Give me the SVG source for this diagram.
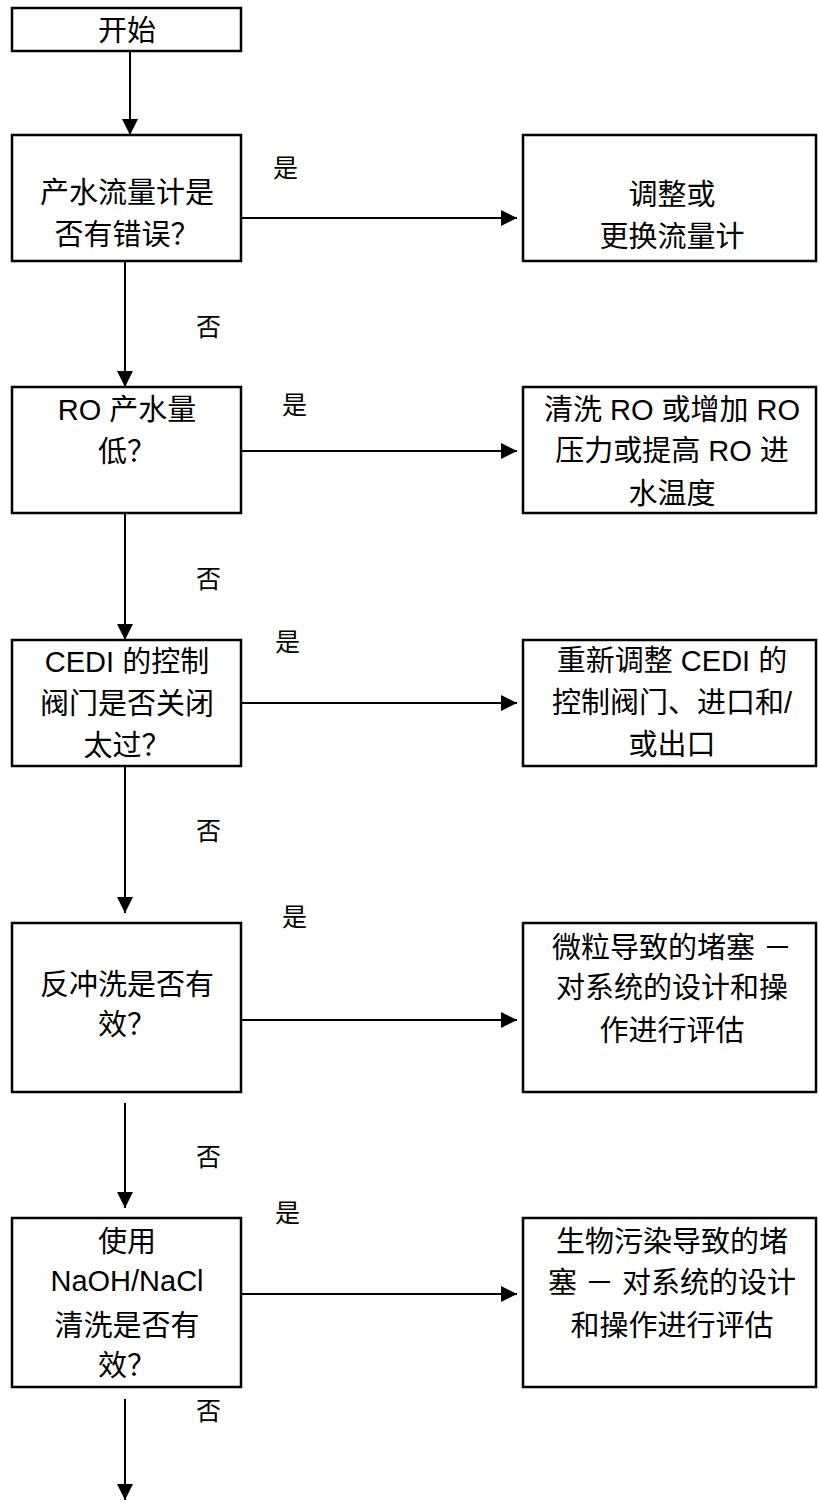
<svg xmlns="http://www.w3.org/2000/svg" width="819" height="1502" viewBox="0 0 819 1502">
<style>
.box{fill:#fff;stroke:#000;stroke-width:2.5}
.t{font-family:"Liberation Sans","Noto Sans CJK SC",sans-serif;font-size:29px;fill:#000;text-anchor:middle}
.l{font-family:"Noto Sans CJK SC","Liberation Sans",sans-serif;font-size:25px;fill:#000}
.c line{stroke:#000;stroke-width:2}
</style>
<defs>
<marker id="ah" markerUnits="userSpaceOnUse" markerWidth="17" markerHeight="16" refX="16" refY="8" orient="auto">
<path d="M0,0 L16,8 L0,16 z" fill="#000"/>
</marker>
</defs>
<g class="c" id="connectors">
<line x1="130" y1="51" x2="130" y2="135" marker-end="url(#ah)"/>
<line x1="125" y1="261" x2="125" y2="387" marker-end="url(#ah)"/>
<line x1="125" y1="513" x2="125" y2="640" marker-end="url(#ah)"/>
<line x1="125" y1="766" x2="125" y2="913" marker-end="url(#ah)"/>
<line x1="125" y1="1103" x2="125" y2="1208" marker-end="url(#ah)"/>
<line x1="125" y1="1399" x2="125" y2="1500" marker-end="url(#ah)"/>
<line x1="238" y1="218" x2="517" y2="218" marker-end="url(#ah)"/>
<line x1="238" y1="451" x2="517" y2="451" marker-end="url(#ah)"/>
<line x1="238" y1="703" x2="517" y2="703" marker-end="url(#ah)"/>
<line x1="238" y1="1020" x2="517" y2="1020" marker-end="url(#ah)"/>
<line x1="238" y1="1294" x2="517" y2="1294" marker-end="url(#ah)"/>
</g>
<g id="labels">
<text class="l" x="273" y="177">是</text>
<text class="l" x="282" y="414">是</text>
<text class="l" x="275" y="651">是</text>
<text class="l" x="282" y="926">是</text>
<text class="l" x="275" y="1222">是</text>
<text class="l" x="196" y="336">否</text>
<text class="l" x="196" y="588">否</text>
<text class="l" x="196" y="840">否</text>
<text class="l" x="196" y="1166">否</text>
<text class="l" x="196" y="1420">否</text>
</g>
<g id="start">
<rect class="box" x="12" y="8" width="229" height="43"/>
<text class="t" x="127" y="41">开始</text>
</g>
<g id="q1">
<rect class="box" x="12" y="135" width="229" height="126"/>
<text class="t" x="127" y="203">产水流量计是</text>
<text class="t" x="127" y="245">否有错误？</text>
</g>
<g id="a1">
<rect class="box" x="523" y="135" width="293" height="126"/>
<text class="t" x="672" y="205">调整或</text>
<text class="t" x="672" y="247">更换流量计</text>
</g>
<g id="q2">
<rect class="box" x="12" y="387" width="229" height="126"/>
<text class="t" x="127" y="420">RO 产水量</text>
<text class="t" x="127" y="462">低？</text>
</g>
<g id="a2">
<rect class="box" x="523" y="387" width="293" height="126"/>
<text class="t" x="672" y="420">清洗 RO 或增加 RO</text>
<text class="t" x="672" y="461">压力或提高 RO 进</text>
<text class="t" x="672" y="504">水温度</text>
</g>
<g id="q3">
<rect class="box" x="12" y="640" width="229" height="126"/>
<text class="t" x="127" y="672">CEDI 的控制</text>
<text class="t" x="127" y="714">阀门是否关闭</text>
<text class="t" x="127" y="756">太过？</text>
</g>
<g id="a3">
<rect class="box" x="523" y="640" width="293" height="126"/>
<text class="t" x="672" y="671">重新调整 CEDI 的</text>
<text class="t" x="672" y="713">控制阀门、进口和/</text>
<text class="t" x="672" y="755">或出口</text>
</g>
<g id="q4">
<rect class="box" x="12" y="923" width="229" height="169"/>
<text class="t" x="127" y="995">反冲洗是否有</text>
<text class="t" x="127" y="1035">效？</text>
</g>
<g id="a4">
<rect class="box" x="523" y="923" width="293" height="169"/>
<text class="t" x="672" y="958">微粒导致的堵塞 －</text>
<text class="t" x="672" y="998">对系统的设计和操</text>
<text class="t" x="672" y="1041">作进行评估</text>
</g>
<g id="q5">
<rect class="box" x="12" y="1218" width="229" height="169"/>
<text class="t" x="127" y="1252">使用</text>
<text class="t" x="127" y="1291">NaOH/NaCl</text>
<text class="t" x="127" y="1336">清洗是否有</text>
<text class="t" x="127" y="1376">效？</text>
</g>
<g id="a5">
<rect class="box" x="523" y="1218" width="293" height="169"/>
<text class="t" x="672" y="1252">生物污染导致的堵</text>
<text class="t" x="672" y="1293">塞 － 对系统的设计</text>
<text class="t" x="672" y="1336">和操作进行评估</text>
</g>
</svg>
